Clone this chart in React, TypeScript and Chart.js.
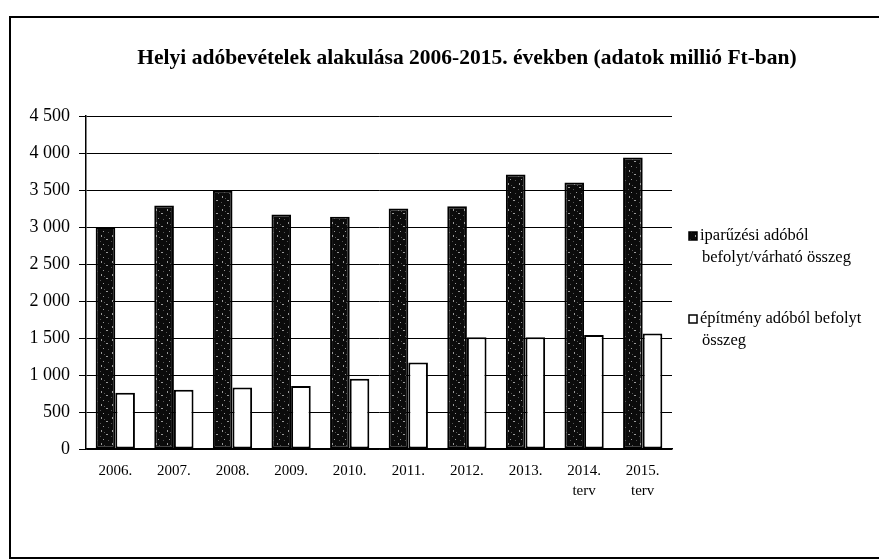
import React, { useEffect, useRef } from "react";
import { Chart, registerables } from "chart.js";

Chart.register(...registerables);

const TITLE = "Helyi adóbevételek alakulása 2006-2015. években (adatok millió Ft-ban)";
const CATEGORIES: string[][] = [
  ["2006."], ["2007."], ["2008."], ["2009."], ["2010."],
  ["2011."], ["2012."], ["2013."], ["2014.", "terv"], ["2015.", "terv"],
];
const IPARUZESI = [3000, 3290, 3490, 3170, 3140, 3250, 3280, 3710, 3600, 3940];
const EPITMENY = [760, 800, 830, 850, 950, 1170, 1510, 1510, 1540, 1560];
const SERIES_LABELS: string[][] = [
  ["iparűzési adóból", "befolyt/várható összeg"],
  ["építmény adóból befolyt", "összeg"],
];
const Y_MIN = 0;
const Y_MAX = 4500;
const Y_STEP = 500;

const SERIF = "'Liberation Serif', 'DejaVu Serif', serif";

function makeDarkPattern(): CanvasPattern | string {
  const c = document.createElement("canvas");
  c.width = 11;
  c.height = 13;
  const g = c.getContext("2d");
  if (!g) return "#111";
  g.fillStyle = "#0b0b0b";
  g.fillRect(0, 0, 11, 13);
  g.fillStyle = "#9a9a9a";
  g.fillRect(2, 1, 1, 2);
  g.fillRect(7, 5, 2, 1);
  g.fillRect(4, 10, 1, 1);
  g.fillStyle = "#555";
  g.fillRect(9, 11, 1, 1);
  g.fillRect(5, 3, 1, 1);
  g.fillRect(1, 7, 1, 1);
  const p = g.createPattern(c, "repeat");
  return p || "#111";
}

function fmt(v: number): string {
  return String(v).replace(/\B(?=(\d{3})+(?!\d))/g, " ");
}

export default function App() {
  const ref = useRef<HTMLCanvasElement | null>(null);

  useEffect(() => {
    document.body.style.margin = "0";
    const canvas = ref.current;
    if (!canvas) return;
    const dark = makeDarkPattern();
    const fills = [dark, "#ffffff"];

    const framePlugin = {
      id: "frameAndText",
      beforeDraw(chart: any) {
        const ctx = chart.ctx;
        ctx.save();
        ctx.fillStyle = "#ffffff";
        ctx.fillRect(0, 0, chart.width, chart.height);
        ctx.strokeStyle = "#000";
        ctx.lineWidth = 2;
        ctx.strokeRect(10, 17, chart.width + 20, 541);
        ctx.restore();
      },
      afterDraw(chart: any) {
        const ctx = chart.ctx;
        const area = chart.chartArea;
        ctx.save();
        // title
        ctx.fillStyle = "#000";
        ctx.font = `bold 21.5px ${SERIF}`;
        ctx.textAlign = "center";
        ctx.textBaseline = "middle";
        ctx.fillText(TITLE, 467, 58);
        // legend
        ctx.font = `16.5px ${SERIF}`;
        ctx.textAlign = "left";
        const lx = area.right + 17;
        const startY = 236;
        SERIES_LABELS.forEach((lines, i) => {
          const y0 = startY + i * 83;
          ctx.fillStyle = fills[i] as any;
          ctx.fillRect(lx, y0 - 4, 8, 8);
          ctx.strokeStyle = "#000";
          ctx.lineWidth = 1.5;
          ctx.strokeRect(lx, y0 - 4, 8, 8);
          ctx.fillStyle = "#000";
          lines.forEach((t, j) => {
            ctx.fillText(t, lx + (j === 0 ? 11 : 13), y0 + j * 22);
          });
        });
        ctx.restore();
      },
    };

    const chart = new Chart(canvas, {
      type: "bar",
      data: {
        labels: CATEGORIES,
        datasets: [
          {
            label: SERIES_LABELS[0].join(" "),
            data: IPARUZESI,
            backgroundColor: dark as any,
            borderColor: "#000",
            borderWidth: 2,
            borderSkipped: false,
          },
          {
            label: SERIES_LABELS[1].join(" "),
            data: EPITMENY,
            backgroundColor: "#ffffff",
            borderColor: "#000",
            borderWidth: 2,
            borderSkipped: false,
          },
        ],
      },
      options: {
        responsive: false,
        animation: false,
        devicePixelRatio: 1,
        layout: { padding: { left: 20, right: 207, top: 116, bottom: 51 } },
        datasets: {
          bar: { categoryPercentage: 0.67, barPercentage: 1.0 },
        },
        plugins: {
          legend: { display: false },
          title: { display: false },
          tooltip: { enabled: false },
        },
        scales: {
          x: {
            grid: { display: false, drawTicks: false },
            border: { display: true, color: "#000", width: 1.5 },
            ticks: {
              color: "#000",
              font: { family: SERIF, size: 15, lineHeight: 1.35 },
              padding: 12,
              maxRotation: 0,
              autoSkip: false,
            },
            afterFit(scale: any) {
              scale.height = 60;
            },
          },
          y: {
            min: Y_MIN,
            max: Y_MAX,
            grid: { color: "#000", lineWidth: 1, tickLength: 7, drawTicks: true },
            border: { display: true, color: "#000", width: 1.5 },
            ticks: {
              stepSize: Y_STEP,
              color: "#000",
              font: { family: SERIF, size: 18 },
              padding: 9,
              callback: (v: any) => fmt(Number(v)),
            },
            afterFit(scale: any) {
              scale.width = 66;
            },
          },
        },
      },
      plugins: [framePlugin],
    });
    return () => chart.destroy();
  }, []);

  return <canvas ref={ref} width={879} height={560} style={{ display: "block" }} />;
}
